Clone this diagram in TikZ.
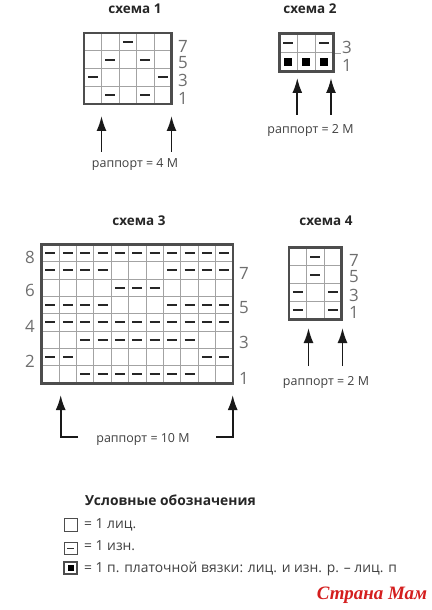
\documentclass[tikz,border=0pt]{standalone}
\usepackage{fontspec}
\setmainfont{Open Sans}
\newfontfamily\wmfont{Liberation Serif}
\usetikzlibrary{arrows.meta, positioning, calc}
\definecolor{gridGray}{HTML}{A3A3A3}
\definecolor{frameGray}{HTML}{4D4D4D}
\definecolor{numGray}{HTML}{6E6E6E}
\definecolor{wmRed}{HTML}{D41E1E}
\tikzset{
    gridLine/.style={draw=gridGray, line width=0.8pt},
    frameLine/.style={draw=frameGray, line width=2.8pt},
    purlDash/.style={draw=black!85, line width=2pt},
    rowNum/.style={font=\fontsize{17}{17}\selectfont, text=numGray, inner sep=0pt},
    schemeTitle/.style={font=\fontsize{13.5}{14}\selectfont\bfseries, text=black!85, inner sep=0pt},
    rapText/.style={font=\fontsize{12.5}{13}\selectfont, text=black!75, inner sep=0pt, anchor=base},
    rapArrow/.style={-{Latex[length=15bp, width=10bp]}, line width=1.8pt, draw=black!90},
    legText/.style={font=\fontsize{13.9}{15}\selectfont, text=black!75, inner sep=0pt, anchor=base west},
    legHead/.style={font=\fontsize{13.9}{15}\selectfont\bfseries, text=black!85, inner sep=0pt, anchor=base west},
    legBox/.style={draw=frameGray, line width=0.9pt},
    wmText/.style={font=\wmfont\itshape\bfseries\fontsize{19}{19}\selectfont, text=wmRed, inner sep=0pt}
}
\begin{document}
\begin{tikzpicture}[x=1bp, y=-1bp]
        \useasboundingbox (0,0) rectangle (431,610);

        % 1. Titles
        \node[schemeTitle] (title1) at (135,9)   {схема 1};
        \node[schemeTitle] (title2) at (310,9)   {схема 2};
        \node[schemeTitle] (title3) at (139,221) {схема 3};
        \node[schemeTitle] (title4) at (326,221) {схема 4};

        % 2. Scheme 1 (5 x 4)
        \begin{scope}[xshift=84bp, yshift=-33bp, x=17.5bp, y=-17.75bp]
            \foreach \c in {1,...,4} { \draw[gridLine] (\c,0) -- (\c,4); }
            \foreach \r in {1,...,3} { \draw[gridLine] (0,\r) -- (5,\r); }
            \foreach \c/\r in {3/1, 2/2, 4/2, 1/3, 5/3, 2/4, 4/4}
                { \draw[purlDash] (\c-0.5,\r-0.5) ++(-5bp,0) -- ++(10bp,0); }
            \draw[frameLine] (0,0) rectangle (5,4);
        \end{scope}
        \foreach \n/\y in {7/46.5, 5/62.5, 3/80.5, 1/98}
            { \node[rowNum] (sA-\n) at (183,\y) {\n}; }

        % 3. Scheme 2 (3 x 2)
        \draw[gridLine] (333,53) -- (341,53);
        \begin{scope}[xshift=279.3bp, yshift=-33.3bp, x=18bp, y=-19.2bp]
            \foreach \c in {1,2} { \draw[gridLine] (\c,0) -- (\c,2); }
            \draw[gridLine] (0,1) -- (3,1);
            \foreach \c in {1,3}
                { \draw[purlDash] (\c-0.5,0.5) ++(-5bp,0) -- ++(10bp,0); }
            \foreach \c in {1,2,3}
                { \fill[black] (\c-0.5,1.5) ++(-4bp,-4bp) rectangle ++(8bp,8bp); }
            \draw[frameLine] (0,0) rectangle (3,2);
        \end{scope}
        \foreach \n/\y in {3/47, 1/65}
            { \node[rowNum] (sB-\n) at (347,\y) {\n}; }

        % 4. Scheme 3 (11 x 8)
        \begin{scope}[xshift=41.7bp, yshift=-244.3bp, x=17.39bp, y=-17.35bp]
            \foreach \c in {1,...,10} { \draw[gridLine] (\c,0) -- (\c,8); }
            \foreach \r in {1,...,7} { \draw[gridLine] (0,\r) -- (11,\r); }
            \foreach \r/\cols in {1/{1,...,11}, 2/{1,2,3,4,8,9,10,11}, 3/{5,6,7},
                                  4/{1,2,3,4,8,9,10,11}, 5/{1,...,11}, 6/{3,...,9},
                                  7/{1,2,10,11}, 8/{3,...,9}}
                { \foreach \c in \cols
                    { \draw[purlDash] (\c-0.5,\r-0.5) ++(-5bp,0) -- ++(10bp,0); } }
            \draw[frameLine] (0,0) rectangle (11,8);
        \end{scope}
        \foreach \n/\y in {8/257, 6/290, 4/326, 2/361}
            { \node[rowNum] (sC-\n) at (30,\y) {\n}; }
        \foreach \n/\y in {7/273, 5/308, 3/342, 1/378}
            { \node[rowNum] (sC-\n) at (244,\y) {\n}; }

        % 5. Scheme 4 (3 x 4)
        \begin{scope}[xshift=289bp, yshift=-247.7bp, x=17.55bp, y=-17.9bp]
            \foreach \c in {1,2} { \draw[gridLine] (\c,0) -- (\c,4); }
            \foreach \r in {1,2,3} { \draw[gridLine] (0,\r) -- (3,\r); }
            \foreach \c/\r in {2/1, 2/2, 1/3, 3/3, 1/4, 3/4}
                { \draw[purlDash] (\c-0.5,\r-0.5) ++(-5bp,0) -- ++(10bp,0); }
            \draw[frameLine] (0,0) rectangle (3,4);
        \end{scope}
        \foreach \n/\y in {7/260, 5/277, 3/295, 1/312}
            { \node[rowNum] (sD-\n) at (354,\y) {\n}; }

        % 6. Rapport arrows and texts
        \coordinate (s1L0) at (101.5,152); \coordinate (s1L1) at (101.5,116);
        \coordinate (s1R0) at (171.5,152); \coordinate (s1R1) at (171.5,116);
        \draw[rapArrow] (s1L0) -- (s1L1);
        \draw[rapArrow] (s1R0) -- (s1R1);
        \node[rapText] (rap1) at (135,168) {раппорт = 4 М};

        \coordinate (s2L0) at (297.3,115); \coordinate (s2L1) at (297.3,78);
        \coordinate (s2R0) at (331,115);   \coordinate (s2R1) at (331,78);
        \draw[rapArrow] (s2L0) -- (s2L1);
        \draw[rapArrow] (s2R0) -- (s2R1);
        \node[rapText] (rap2) at (310.5,133.5) {раппорт = 2 М};

        \coordinate (s3Lend) at (78,437);    \coordinate (s3Lcorner) at (60.7,437);
        \coordinate (s3Ltip) at (60.7,395);
        \coordinate (s3Rend) at (216,437);   \coordinate (s3Rcorner) at (232.7,437);
        \coordinate (s3Rtip) at (232.7,395);
        \draw[rapArrow] (s3Lend) -- (s3Lcorner) -- (s3Ltip);
        \draw[rapArrow] (s3Rend) -- (s3Rcorner) -- (s3Rtip);
        \node[rapText] (rap3) at (143,442) {раппорт = 10 М};

        \coordinate (s4L0) at (308.5,366); \coordinate (s4L1) at (308.5,328);
        \coordinate (s4R0) at (342.5,366); \coordinate (s4R1) at (342.5,328);
        \draw[rapArrow] (s4L0) -- (s4L1);
        \draw[rapArrow] (s4R0) -- (s4R1);
        \node[rapText] (rap4) at (326,385) {раппорт = 2 М};

        % 7. Legend
        \node[legHead] (legTitle) at (85,505) {Условные обозначения};
        \draw[legBox] (64,518) rectangle (77,531);
        \node[legText] (leg1) at (84,528.5) {= 1 лиц.};
        \draw[legBox] (64,542) rectangle (77,554);
        \draw[line width=0.9pt, black!80] (67,548) -- (74,548);
        \node[legText] (leg2) at (84,550.5) {= 1 изн.};
        \draw[legBox, line width=1.8pt] (64,562) rectangle (77,574);
        \fill[black] (67.5,565) rectangle (73.5,571);
        \node[legText] (leg3) at (84,572) {= 1 п. платочной вязки: лиц. и изн. р. – лиц. п};

        % 8. Watermark
        \node[wmText] (wmark) at (372,595) {Страна Мам};

\end{tikzpicture}
\end{document}
